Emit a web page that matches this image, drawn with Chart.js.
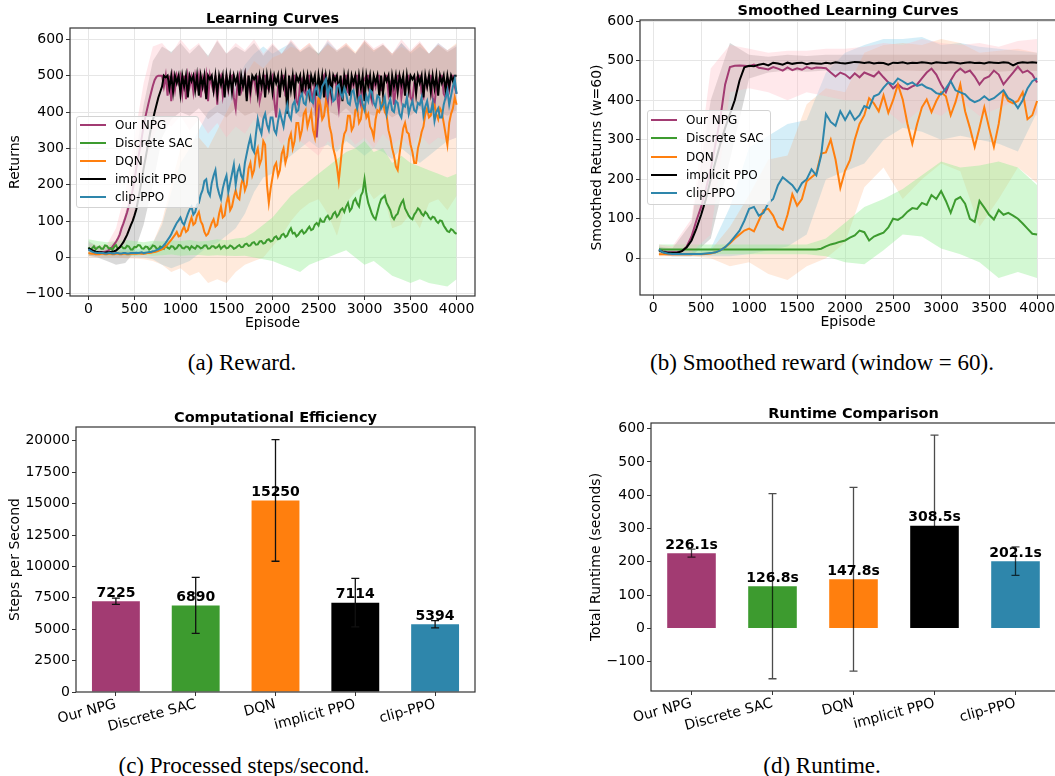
<!DOCTYPE html>
<html>
<head>
<meta charset="utf-8">
<script src="https://cdn.jsdelivr.net/npm/chart.js@4.4.1/dist/chart.umd.min.js"></script>
<style>
html, body { margin: 0; padding: 0; background: #fff; }
body { width: 1055px; height: 776px; position: relative; overflow: hidden; font-family: 'DejaVu Sans', sans-serif; }
canvas { position: absolute; }
.cap { position: absolute; font-family: 'Liberation Serif', 'Times New Roman', serif; font-size: 23px; line-height: 23px; color: #000; transform: translateX(-50%); white-space: nowrap; }
.legend { position: absolute; background: rgba(255,255,255,0.8); border: 1px solid #d3d3d3; border-radius: 3px; box-sizing: border-box; }
.legend .row { position: absolute; left: 0; height: 16px; width: 100%; font-size: 12px; line-height: 16px; white-space: nowrap; color: #000; }
.legend .swatch { position: absolute; left: 3px; top: 7px; width: 26px; height: 2px; }
.legend .txt { position: absolute; left: 38px; top: 0; }
</style>
</head>
<body>
<canvas id="chartA" width="485" height="340" style="left:0;top:0"></canvas>
<canvas id="chartB" width="476" height="340" style="left:580px;top:0"></canvas>
<canvas id="chartC" width="485" height="340" style="left:0;top:400px"></canvas>
<canvas id="chartD" width="476" height="340" style="left:580px;top:400px"></canvas>
<div class="legend" id="legA" style="left:76px;top:116px;width:123px;height:92px"></div>
<div class="legend" id="legB" style="left:647px;top:110px;width:124px;height:95px"></div>
<div class="cap" style="left:242px;top:351px">(a) Reward.</div>
<div class="cap" style="left:822px;top:351px">(b) Smoothed reward (window = 60).</div>
<div class="cap" style="left:244px;top:754px">(c) Processed steps/second.</div>
<div class="cap" style="left:822px;top:754px">(d) Runtime.</div>
<script>
// algorithms, in legend order
const algos = ['Our NPG', 'Discrete SAC', 'DQN', 'implicit PPO', 'clip-PPO'];
const lineColors = ['#A23B72', '#3D9B2F', '#FF7F0E', '#000000', '#2E86AB'];
const bandColors = ['rgba(255,182,193,0.32)', 'rgba(144,238,144,0.4)', 'rgba(255,150,80,0.2)', 'rgba(128,128,128,0.3)', 'rgba(135,206,235,0.35)'];
const lineOrder = [5, 4, 3, 2, 1]; // clip-PPO on top

// (a) raw returns, every 20 episodes
const rawEpisodes = Array.from({length: 201}, (_, i) => i * 20);
const rawNPG = [
  22,20,18,17,15,14,14,15,15,16,17,20,24,29,36,43,52,63,80,93,
  108,124,142,160,185,212,245,272,300,330,362,388,410,432,452,472,488,497,500,500,
  500,470,500,445,500,430,495,460,500,480,500,450,500,435,500,470,495,455,500,470,
  500,440,490,465,500,430,500,475,455,500,420,490,500,445,480,500,460,495,500,440,
  410,480,500,455,470,500,440,500,445,485,490,460,500,430,455,500,500,470,460,490,
  500,430,385,470,480,500,500,445,440,490,470,500,500,430,420,480,490,460,450,500,
  500,460,430,480,330,400,470,490,500,440,420,480,440,500,500,450,410,470,480,500,
  500,455,450,490,470,500,500,440,420,480,490,500,500,450,430,490,470,500,500,460,
  460,500,500,450,480,490,420,470,500,500,440,480,470,500,500,440,430,480,490,500,
  500,450,440,490,470,500,500,440,420,470,480,500,500,450,440,480,460,500,500,470,
  450];
const rawSAC = [
  28,22,25,31,22,27,30,24,24,33,32,25,26,21,29,34,23,28,31,25,
  25,32,30,22,22,29,28,34,33,25,24,30,29,22,26,33,31,25,23,30,
  28,24,32,27,24,31,30,23,26,34,33,26,25,30,29,22,31,27,24,32,
  30,25,27,33,33,24,25,31,31,26,28,34,24,29,32,25,27,33,30,24,
  26,31,34,28,29,36,38,32,33,40,42,35,36,44,45,38,40,48,50,44,
  46,55,58,50,52,62,65,56,60,72,80,66,68,58,62,70,75,66,70,78,
  85,75,78,90,95,88,105,98,98,110,115,105,108,120,125,112,118,130,135,125,
  140,150,128,135,155,162,148,140,170,180,215,175,150,135,120,110,105,125,145,160,
  165,170,150,140,130,112,105,115,120,138,150,158,135,125,115,108,105,118,125,135,
  130,120,115,125,120,110,105,112,110,100,95,102,100,88,80,72,70,78,75,68,
  65];
const rawDQN = [
  12,11,10,10,9,9,9,10,10,9,9,10,10,9,9,10,10,9,9,10,
  10,9,9,10,10,10,10,11,11,10,10,11,12,12,13,14,15,16,18,20,
  22,26,30,36,42,48,55,62,70,58,60,75,85,70,75,95,110,90,95,115,
  125,100,90,70,60,65,80,95,105,85,90,120,140,110,115,150,170,130,140,165,
  185,165,160,200,220,185,200,245,260,225,240,285,300,255,270,320,310,200,150,190,
  220,250,260,225,240,285,300,260,280,325,340,300,320,370,370,330,350,395,405,360,
  380,400,350,330,400,440,420,380,390,430,410,360,340,300,280,250,210,260,310,340,
  350,390,390,350,360,405,410,370,380,420,420,385,395,360,350,330,380,405,400,420,
  430,400,390,350,330,300,280,250,240,285,320,355,370,345,340,310,290,260,260,300,
  320,345,360,395,410,385,390,425,420,395,380,410,400,370,340,310,370,395,410,440,
  420];
const rawImplicit = [
  26,23,20,18,16,15,14,14,13,13,14,14,15,16,17,19,24,28,35,42,
  52,62,75,88,100,115,132,158,185,215,245,272,300,328,355,378,400,420,440,455,
  470,500,495,500,465,500,455,500,480,500,450,500,470,500,440,500,485,500,460,500,
  445,500,470,500,435,500,490,500,460,500,450,500,475,500,440,500,465,500,455,500,
  480,500,445,500,470,500,430,500,460,500,490,500,450,500,470,500,440,500,465,500,
  455,500,480,500,440,500,470,500,395,500,460,500,450,500,485,500,445,500,470,500,
  450,500,480,500,445,500,465,500,440,500,470,500,455,500,485,500,460,500,430,500,
  470,500,445,500,480,500,450,500,465,500,430,500,470,500,455,500,480,500,445,500,
  450,500,485,500,440,500,470,500,455,500,475,500,445,500,460,500,490,500,450,500,
  480,500,440,500,470,500,455,500,465,500,445,500,480,500,460,500,470,500,485,500,
  500];
const rawClip = [
  22,19,16,14,13,12,12,12,12,11,11,12,12,11,11,12,12,11,11,12,
  12,11,11,12,12,12,13,12,13,14,12,13,14,15,15,17,18,20,22,25,
  28,34,40,48,55,64,75,85,95,102,110,96,90,105,120,132,140,118,125,145,
  150,172,185,210,215,180,170,205,225,240,195,175,160,190,210,225,180,205,230,255,
  200,235,250,225,215,260,285,310,330,300,290,340,380,355,340,380,395,365,350,385,
  385,350,340,375,400,380,360,395,420,390,380,420,430,400,405,440,450,425,420,455,
  460,430,425,460,470,445,440,470,480,490,445,470,465,430,435,470,475,450,440,465,
  450,425,420,455,460,430,410,440,445,420,405,445,430,460,455,425,415,445,440,410,
  420,440,395,420,435,405,400,430,425,395,385,420,415,440,395,415,430,405,400,425,
  420,440,390,415,430,400,400,425,375,400,410,385,385,420,440,460,420,445,470,490,
  450];

// (a) spread bands, every 100 episodes
const rawBandEpisodes = Array.from({length: 41}, (_, i) => i * 100);
const rawUpNPG = [40,32,35,80,180,330,480,580,590,560,600,570,590,550,600,560,590,570,600,560,590,560,600,570,590,555,600,570,590,560,600,575,590,560,600,570,595,560,590,570,585];
const rawLoNPG = [10,5,5,10,40,110,230,330,380,360,390,350,380,340,370,330,360,340,380,320,350,310,340,320,300,280,320,300,340,310,330,300,340,310,330,300,340,310,330,320,330];
const rawUpSAC = [50,45,42,45,48,45,42,46,44,47,45,48,44,46,50,47,52,55,70,90,110,140,170,190,210,230,250,270,290,300,320,290,300,260,280,260,250,240,230,220,230];
const rawLoSAC = [8,6,5,8,6,5,7,5,6,8,5,6,7,5,6,5,4,5,0,-5,-10,-20,-30,-40,-20,-10,0,10,20,0,-20,-10,-30,-50,-60,-70,-60,-70,-75,-80,-60];
const rawUpDQN = [25,20,18,18,18,18,20,40,100,200,300,320,330,300,350,400,450,500,540,520,550,560,580,570,590,560,585,570,590,565,595,570,585,560,580,565,590,560,585,570,590];
const rawLoDQN = [0,0,0,0,-2,-3,-5,-10,-20,-40,-30,-50,-40,-70,-60,-70,-40,-20,-10,0,30,60,100,130,150,160,120,60,150,180,200,160,180,80,90,120,80,150,160,130,170];
const rawUpImplicit = [45,30,28,45,120,260,420,540,580,565,590,560,585,555,595,560,580,565,590,555,585,560,595,565,580,560,590,565,585,560,595,570,585,560,590,565,590,560,585,565,580];
const rawLoImplicit = [5,0,-10,-20,-15,15,90,200,330,380,400,390,410,380,400,385,410,390,400,380,405,390,410,385,400,380,405,390,410,385,400,390,405,385,400,390,410,385,400,390,405];
const rawUpClip = [40,30,25,22,22,22,25,40,90,180,260,300,350,400,420,450,480,530,560,580,560,575,590,565,585,560,595,570,580,560,590,565,585,555,590,560,580,560,590,570,585];
const rawLoClip = [5,3,2,2,2,2,0,-5,-20,-30,-20,-10,10,30,40,60,80,120,180,220,230,260,280,300,320,300,310,290,320,300,280,300,290,270,300,280,260,280,300,320,330];

// (b) smoothed returns (w=60)
const smoothEpisodes = [60].concat(Array.from({length: 79}, (_, i) => 100 + 50 * i));
const smNPG = [22,18,15,15,16,18,30,55,95,130, 175,225,290,355,440,484,487,488,487,486,
  490,482,480,478,484,480,475,483,476,481, 477,484,480,483,482,481,470,460,470,465,
  455,468,458,470,465,460,472,458,445,430, 440,430,428,435,440,455,470,480,465,440,
  420,450,470,480,470,475,460,440,455,460, 475,465,440,455,470,485,470,475,465,445];
const smSAC = [23,22,22,22,22,22,22,22,22,22, 22,22,22,22,22,22,22,22,22,22,
  22,22,22,22,22,22,22,22,22,22, 22,22,22,22,24,30,35,38,42,45,
  52,58,70,66,45,55,60,65,78,100, 97,105,118,127,125,140,135,160,150,170,
  145,115,148,155,138,100,92,145,128,110, 98,122,110,115,108,100,88,75,62,60];
const smDQN = [10,10,10,10,10,10,10,10,10,10, 11,12,15,20,28,38,50,60,70,75,
  68,95,122,125,108,80,72,110,162,133, 150,195,205,215,265,268,300,250,178,222,
  248,300,340,362,405,392,372,412,368,400, 440,402,340,290,340,382,402,370,398,420,
  410,362,395,440,372,330,282,330,382,330, 282,340,420,398,392,398,420,352,362,398];
const smImplicit = [20,16,14,14,14,18,28,45,75,110, 150,200,245,290,330,365,400,450,483,487,
  486,490,492,488,495,493,490,495,492,494, 495,491,494,493,492,495,493,496,494,493,
  495,497,496,494,496,493,495,494,490,495, 494,496,493,495,494,496,495,493,496,495,
  494,496,495,493,495,496,494,495,493,496, 495,494,496,495,488,494,496,495,496,495];
const smClip = [22,15,12,11,11,11,11,11,11,11, 12,13,15,20,28,40,55,70,95,125,
  130,108,115,140,150,185,205,195,185,168, 190,200,225,210,260,365,345,335,372,350,
  372,350,362,385,380,410,415,432,445,440, 455,448,440,445,436,440,432,428,418,415,
  430,448,425,420,415,402,395,400,410,400, 405,415,425,405,398,380,400,430,448,455];

// (b) spread bands, every 200 episodes
const smBandEpisodes = [60].concat(Array.from({length: 20}, (_, i) => 200 + 200 * i));
const smUpNPG = [35,30,100,480,540,530,520,525,525,530,530,535,545,540,555,545,540,545,535,550,555];
const smLoNPG = [10,5,15,60,420,430,420,400,420,410,400,400,380,340,380,360,400,360,380,400,360];
const smUpSAC = [35,35,35,35,35,35,35,35,35,50,90,130,150,175,210,245,230,235,245,230,185];
const smLoSAC = [10,10,10,10,10,10,10,10,10,5,-10,-15,20,60,55,25,10,-10,-50,-35,-50];
const smUpDQN = [20,15,15,20,80,160,250,260,390,430,420,520,540,545,540,555,545,520,525,530,520];
const smLoDQN = [5,5,5,0,-20,-10,-40,-55,-20,0,40,180,230,150,200,240,220,80,150,230,190];
const smUpImplicit = [30,25,90,400,545,515,510,515,512,515,515,515,515,515,515,515,515,515,515,515,515];
const smLoImplicit = [10,5,5,50,250,455,470,475,472,475,474,475,473,475,474,475,474,475,472,475,474];
const smUpClip = [30,20,18,25,130,280,310,340,350,470,520,540,555,555,560,540,545,535,530,525,520];
const smLoClip = [10,5,5,5,5,10,20,30,60,200,220,240,300,330,320,300,310,300,290,270,370];

// (c), (d) bar data
const stepsPerSecond = [7225, 6890, 15250, 7114, 5394];
const stepsPerSecondErr = [250, 2230, 4840, 1930, 290];
const runtimeSeconds = [226.1, 126.8, 147.8, 308.5, 202.1];
const runtimeErr = [12, 278, 276, 272, 43];

// tick values
const episodeTicks = [0, 500, 1000, 1500, 2000, 2500, 3000, 3500, 4000];
const returnTicksA = [-100, 0, 100, 200, 300, 400, 500, 600];
const returnTicksB = [0, 100, 200, 300, 400, 500, 600];
const stepsTicks = [0, 2500, 5000, 7500, 10000, 12500, 15000, 17500, 20000];
const runtimeTicks = [-100, 0, 100, 200, 300, 400, 500, 600];

Chart.defaults.font.family = "'DejaVu Sans', sans-serif";
Chart.defaults.color = '#000';

const toXY = (xs, ys) => ys.map((y, i) => ({x: xs[i], y: y}));
const minus = v => String(v).replace('-', '\u2212');

const frame = {
  id: 'frame',
  afterDraw(chart) {
    const {ctx, chartArea: a} = chart;
    ctx.save();
    ctx.strokeStyle = '#333';
    ctx.lineWidth = 1.2;
    ctx.strokeRect(a.left, a.top, a.right - a.left, a.bottom - a.top);
    ctx.restore();
  }
};

function yAxis(c) {
  return {
    min: c.min, max: c.max,
    afterFit: s => { s.width = c.width; },
    afterBuildTicks: s => { s.ticks = c.ticks.map(v => ({value: v})); },
    ticks: { callback: minus, font: {size: 14}, padding: 2, autoSkip: false },
    grid: { display: true, drawOnChartArea: c.grid, color: '#e6e6e6', tickColor: '#333', tickLength: 4 },
    border: { display: false },
    title: { display: true, text: c.title, font: {size: 14}, padding: {top: c.titlePad, bottom: 0} }
  };
}

function lineChart(id, c) {
  const datasets = [];
  algos.forEach((name, k) => {
    datasets.push({ label: name + ' hi', data: toXY(c.bandX, c.upper[k]), borderColor: 'rgba(0,0,0,0)', borderWidth: 0,
      pointRadius: 0, fill: false, order: 20 + k });
    datasets.push({ label: name + ' lo', data: toXY(c.bandX, c.lower[k]), borderColor: 'rgba(0,0,0,0)', borderWidth: 0,
      pointRadius: 0, fill: '-1', backgroundColor: bandColors[k], order: 20 + k });
  });
  algos.forEach((name, k) => {
    datasets.push({ label: name, data: toXY(c.x, c.series[k]), borderColor: lineColors[k], borderWidth: c.lineWidth,
      pointRadius: 0, fill: false, order: lineOrder[k] });
  });
  new Chart(document.getElementById(id), {
    type: 'line',
    data: { datasets },
    options: {
      responsive: false, animation: false, events: [],
      layout: { padding: c.pad },
      plugins: {
        legend: { display: false }, tooltip: { enabled: false },
        title: { display: true, text: c.title, fullSize: false, font: {size: 14.5, weight: 'bold'}, padding: c.titlePad }
      },
      scales: {
        x: {
          type: 'linear', min: c.xMin, max: c.xMax,
          afterFit: s => { s.height = c.xHeight; },
          afterBuildTicks: s => { s.ticks = episodeTicks.map(v => ({value: v})); },
          ticks: { callback: v => String(v), font: {size: 14}, padding: 1, maxRotation: 0, autoSkip: false },
          grid: { color: '#e6e6e6', tickColor: '#333', tickLength: 4 },
          border: { display: false },
          title: { display: true, text: 'Episode', font: {size: 14}, padding: {top: 0, bottom: c.xTitlePad} }
        },
        y: yAxis(c.y)
      }
    },
    plugins: [frame]
  });
}

function barExtras(errors, labelText, errColor) {
  return {
    id: 'barExtras',
    afterDatasetsDraw(chart) {
      const {ctx} = chart;
      const ys = chart.scales.y;
      const meta = chart.getDatasetMeta(0);
      const values = chart.data.datasets[0].data;
      ctx.save();
      ctx.strokeStyle = errColor;
      ctx.lineWidth = 1.3;
      meta.data.forEach((bar, i) => {
        const top = ys.getPixelForValue(values[i] + errors[i]);
        const bot = ys.getPixelForValue(values[i] - errors[i]);
        ctx.beginPath();
        ctx.moveTo(bar.x, top); ctx.lineTo(bar.x, bot);
        ctx.moveTo(bar.x - 4, top); ctx.lineTo(bar.x + 4, top);
        ctx.moveTo(bar.x - 4, bot); ctx.lineTo(bar.x + 4, bot);
        ctx.stroke();
      });
      ctx.fillStyle = '#000';
      ctx.font = "bold 14px 'DejaVu Sans', sans-serif";
      ctx.textAlign = 'center';
      ctx.textBaseline = 'bottom';
      meta.data.forEach((bar, i) => {
        ctx.fillText(labelText(values[i]), bar.x, bar.y - 1);
      });
      ctx.restore();
    }
  };
}

function barChart(id, c) {
  new Chart(document.getElementById(id), {
    type: 'bar',
    data: { labels: algos, datasets: [{ data: c.values, backgroundColor: lineColors, borderWidth: 0,
      barPercentage: 0.6, categoryPercentage: 1.0 }] },
    options: {
      responsive: false, animation: false, events: [],
      layout: { padding: c.pad },
      plugins: {
        legend: { display: false }, tooltip: { enabled: false },
        title: { display: true, text: c.title, fullSize: false, font: {size: 14.5, weight: 'bold'}, padding: c.titlePad }
      },
      scales: {
        x: {
          afterFit: s => { s.height = c.xHeight; },
          ticks: { font: {size: 14}, minRotation: 15, maxRotation: 15, padding: 0, autoSkip: false },
          grid: { offset: false, drawOnChartArea: false, tickColor: '#333', tickLength: 4 },
          border: { display: false }
        },
        y: yAxis(c.y)
      }
    },
    plugins: [frame, barExtras(c.errors, c.labelText, c.errColor)]
  });
}

lineChart('chartA', {
  title: 'Learning Curves', titlePad: {top: 10.3, bottom: 0.3},
  pad: {left: 0, top: 0, right: 10, bottom: 0},
  x: rawEpisodes, series: [rawNPG, rawSAC, rawDQN, rawImplicit, rawClip], lineWidth: 2,
  bandX: rawBandEpisodes,
  upper: [rawUpNPG, rawUpSAC, rawUpDQN, rawUpImplicit, rawUpClip],
  lower: [rawLoNPG, rawLoSAC, rawLoDQN, rawLoImplicit, rawLoClip],
  xMin: -200, xMax: 4200, xHeight: 44, xTitlePad: 8.6,
  y: { min: -106, max: 631, width: 70, ticks: returnTicksA, grid: true, title: 'Returns', titlePad: 6.6 }
});

lineChart('chartB', {
  title: 'Smoothed Learning Curves', titlePad: {top: 2.3, bottom: 0.3},
  pad: {left: 0, top: 0, right: 0, bottom: 0},
  x: smoothEpisodes, series: [smNPG, smSAC, smDQN, smImplicit, smClip], lineWidth: 2,
  bandX: smBandEpisodes,
  upper: [smUpNPG, smUpSAC, smUpDQN, smUpImplicit, smUpClip],
  lower: [smLoNPG, smLoSAC, smLoDQN, smLoImplicit, smLoClip],
  xMin: -137, xMax: 4197, xHeight: 45, xTitlePad: 8.9,
  y: { min: -93, max: 603, width: 60, ticks: returnTicksB, grid: true, title: 'Smoothed Returns (w=60)', titlePad: 8.6 }
});

barChart('chartC', {
  title: 'Computational Efficiency', titlePad: {top: 9.6, bottom: 0},
  pad: {left: 0, top: 0, right: 10, bottom: 0},
  values: stepsPerSecond, errors: stepsPerSecondErr, errColor: '#111',
  labelText: v => String(v), xHeight: 48,
  y: { min: 0, max: 21100, width: 76, ticks: stepsTicks, grid: false, title: 'Steps per Second', titlePad: 6.6 }
});

barChart('chartD', {
  title: 'Runtime Comparison', titlePad: {top: 5.3, bottom: 0.3},
  pad: {left: 0, top: 0, right: 0, bottom: 0},
  values: runtimeSeconds, errors: runtimeErr, errColor: 'rgba(0,0,0,0.7)',
  labelText: v => v.toFixed(1) + 's', xHeight: 49,
  y: { min: -188, max: 617, width: 71, ticks: runtimeTicks, grid: false, title: 'Total Runtime (seconds)', titlePad: 8.3 }
});

// legends drawn as html boxes over the plots
function buildLegend(id, firstRow, spacing) {
  const box = document.getElementById(id);
  algos.forEach((name, k) => {
    const row = document.createElement('div');
    row.className = 'row';
    row.style.top = (firstRow + k * spacing - 8) + 'px';
    row.innerHTML = '<span class="swatch" style="background:' + lineColors[k] + '"></span><span class="txt">' + name + '</span>';
    box.appendChild(row);
  });
}
buildLegend('legA', 8.3, 17.9);
buildLegend('legB', 9, 18.3);
</script>
</body>
</html>
